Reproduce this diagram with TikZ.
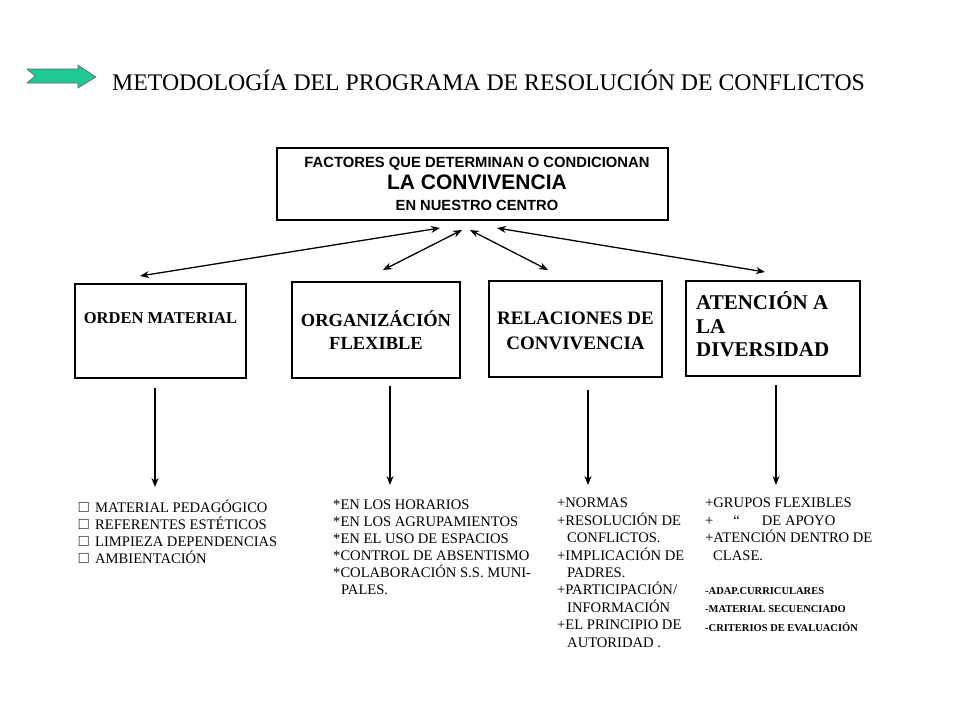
\documentclass[tikz,border=0pt]{standalone}
\usepackage{amssymb}
\usepackage{fontspec}
\setmainfont{Liberation Serif}
\setsansfont{Liberation Sans}
\usepackage{tikz}
\usetikzlibrary{shapes,arrows.meta,positioning}
\usepackage{xcolor}
\definecolor{arrowgreen}{RGB}{32,200,148}

\tikzset{
    catbox/.style={draw, line width=1.3pt, rectangle, inner sep=0pt},
    cattxt/.style={font=\bfseries, align=center},
    listtxt/.style={font=\fontsize{14.6}{17}\selectfont, align=left, anchor=north west, inner sep=0pt},
    link/.style={{Stealth[length=9pt,width=7pt]}-{Stealth[length=9pt,width=7pt]}, line width=1.3pt},
    down/.style={-{Stealth[length=9pt,width=7pt]}, line width=1.3pt}
}

\begin{document}
\begin{tikzpicture}[x=1pt,y=-1pt]
    \useasboundingbox (0,0) rectangle (960,720);

    % title line
    \draw[fill=arrowgreen, draw=black!60, line width=0.6pt]
        (27,69) -- (78,69) -- (78,65) -- (96,77) -- (78,88) -- (78,83) -- (27,83) -- (35,76) -- cycle;
    \node[anchor=west, inner sep=0pt, font=\fontsize{23.8}{26}\selectfont] (title) at (112,80) {METODOLOGÍA DEL PROGRAMA DE RESOLUCIÓN DE CONFLICTOS};

    % central box
    \node[catbox, minimum width=391pt, minimum height=72pt] (factores) at (472.5,184) {};
    \node[font=\sffamily\bfseries\fontsize{14.8}{21.5}\selectfont, align=center, inner sep=0pt] (factorestxt) at (477,184)
        {FACTORES QUE DETERMINAN O CONDICIONAN\\
         {\fontsize{21}{22}\selectfont LA CONVIVENCIA}\\
         {\fontsize{14.7}{16}\selectfont EN NUESTRO CENTRO}};

    % the four factors
    \node[catbox, minimum width=171pt, minimum height=94pt] (orden) at (160.5,331) {};
    \node[cattxt, font=\fontsize{16.5}{19}\selectfont\bfseries] (ordentxt) at (160.5,318) {ORDEN MATERIAL};
    \node[catbox, cattxt, font=\fontsize{18.5}{23}\selectfont\bfseries, minimum width=168pt, minimum height=96pt] (organiz) at (376,330) {ORGANIZÁCIÓN\\FLEXIBLE};
    \node[catbox, cattxt, font=\fontsize{19}{25}\selectfont\bfseries, minimum width=173pt, minimum height=96pt] (relac) at (575.5,329) {};
    \node[cattxt, font=\fontsize{19}{25}\selectfont\bfseries] (relactxt) at (575.5,331) {RELACIONES DE\\CONVIVENCIA};
    \node[catbox, minimum width=174pt, minimum height=95pt] (atencion) at (773,328.5) {};
    \node[anchor=west, align=left, inner sep=0pt, font=\fontsize{21}{23.5}\selectfont\bfseries] (atenciontxt) at (696,324.5) {ATENCIÓN A\\LA\\DIVERSIDAD};

    % arrow ends
    \coordinate (f1) at (440,228);
    \coordinate (f2) at (462,230);
    \coordinate (f3) at (470,230);
    \coordinate (f4) at (497,228);
    \coordinate (c1) at (140,276);
    \coordinate (c2) at (383,270);
    \coordinate (c3) at (548,270);
    \coordinate (c4) at (765,272);

    \draw[link] (f1) -- (c1);
    \draw[link] (f2) -- (c2);
    \draw[link] (f3) -- (c3);
    \draw[link] (f4) -- (c4);

    % lists under each factor
    \node[listtxt, font=\fontsize{14.6}{16.8}\selectfont] (ordenlist) at (78,500)
        {\makebox[17pt][l]{$\square$}MATERIAL PEDAGÓGICO\\
         \makebox[17pt][l]{$\square$}REFERENTES ESTÉTICOS\\
         \makebox[17pt][l]{$\square$}LIMPIEZA DEPENDENCIAS\\
         \makebox[17pt][l]{$\square$}AMBIENTACIÓN};
    \node[listtxt] (organizlist) at (333,500)
        {*EN LOS HORARIOS\\
         *EN LOS AGRUPAMIENTOS\\
         *EN EL USO DE ESPACIOS\\
         *CONTROL DE ABSENTISMO\\
         *COLABORACIÓN S.S. MUNI-\\
         \hspace*{8pt}PALES.};
    \node[listtxt, font=\fontsize{14.6}{17.4}\selectfont] (relaclist) at (557,498)
        {+NORMAS\\
         +RESOLUCIÓN DE\\
         \hspace*{10pt}CONFLICTOS.\\
         +IMPLICACIÓN DE\\
         \hspace*{10pt}PADRES.\\
         +PARTICIPACIÓN/\\
         \hspace*{10pt}INFORMACIÓN\\
         +EL PRINCIPIO DE\\
         \hspace*{10pt}AUTORIDAD .};
    \node[listtxt, font=\fontsize{14.6}{17.4}\selectfont] (atencionlist) at (705,498)
        {+GRUPOS FLEXIBLES\\
         +\hspace{20pt}“\hspace{22pt}DE APOYO\\
         +ATENCIÓN DENTRO DE\\
         \hspace*{8pt}CLASE.};
    \node[listtxt, font=\fontsize{10.5}{18.5}\selectfont\bfseries] (adaplist) at (705,587)
        {-ADAP.CURRICULARES\\
         -MATERIAL SECUENCIADO\\
         -CRITERIOS DE EVALUACIÓN};

    % down arrows
    \coordinate (d1) at (155,388);
    \coordinate (d2) at (390,386);
    \coordinate (d3) at (588,390);
    \coordinate (d4) at (776,385);
    \coordinate (e1) at (155,487);
    \coordinate (e2) at (390,485);
    \coordinate (e3) at (588,485);
    \coordinate (e4) at (776,485);

    \draw[down] (d1) -- (e1);
    \draw[down] (d2) -- (e2);
    \draw[down] (d3) -- (e3);
    \draw[down] (d4) -- (e4);
\end{tikzpicture}
\end{document}
